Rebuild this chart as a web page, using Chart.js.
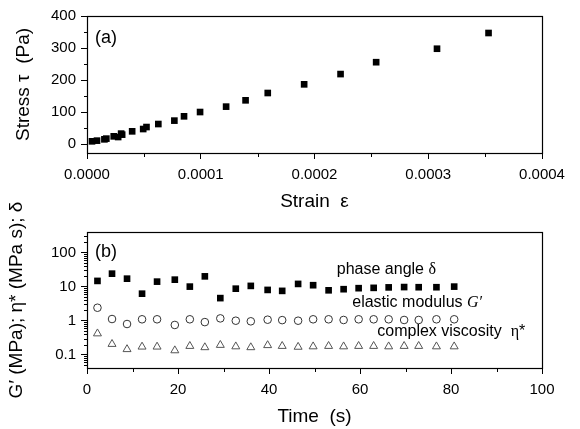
<!DOCTYPE html>
<html>
<head>
<meta charset="utf-8">
<script src="https://cdn.jsdelivr.net/npm/chart.js@4.4.0/dist/chart.umd.min.js"></script>
<style>
  body { margin: 0; background: #fff; }
  #wrap { position: relative; width: 580px; height: 429px; }
  canvas { position: absolute; left: 0; }
  #chartA { top: 0; }
  #chartB { top: 190px; }
</style>
</head>
<body>
<div id="wrap">
  <canvas id="chartA" width="580" height="215"></canvas>
  <canvas id="chartB" width="580" height="239"></canvas>
</div>
<script>
// panel (a) : stress vs strain
let strain = [0.0000044, 0.0000088, 0.0000153, 0.000017, 0.0000235, 0.0000274, 0.00003, 0.0000309, 0.0000397, 0.0000494, 0.0000523, 0.0000627, 0.0000768, 0.0000853, 0.0000994, 0.0001223, 0.0001394, 0.0001589, 0.0001909, 0.0002229, 0.0002542, 0.0003077, 0.000353];
let stress = [9.4, 11.5, 15.6, 17.8, 24.9, 22.8, 33.4, 30.2, 40.5, 47.7, 53.9, 63.3, 73.9, 87.3, 100.7, 117.5, 137.2, 160, 187, 219, 256, 298, 347];
let strainTicks = [0, 0.0001, 0.0002, 0.0003, 0.0004];
let strainMinor = [0.00005, 0.00015, 0.00025, 0.00035];
let stressTicks = [0, 100, 200, 300, 400];
let stressMinor = [50, 150, 250, 350];

// panel (b) : time sweep
let time = [2.3, 5.5, 8.8, 12.1, 15.4, 19.3, 22.6, 25.9, 29.3, 32.7, 36.0, 39.7, 42.9, 46.4, 49.7, 53.1, 56.4, 59.7, 63.0, 66.3, 69.7, 72.9, 76.8, 80.7];
let phaseAngle = [14.7, 24, 17.1, 6.2, 14, 16, 10, 20, 4.6, 8.7, 10.5, 8.0, 7.5, 12, 11, 7.8, 8.4, 9.0, 9.2, 9.5, 9.7, 9.6, 9.6, 10];
let elasticModulus = [2.4, 1.12, 0.8, 1.1, 1.1, 0.75, 1.1, 0.91, 1.17, 1.0, 0.96, 1.07, 1.04, 1.0, 1.1, 1.1, 1.05, 1.1, 1.1, 1.1, 1.05, 1.05, 1.1, 1.1];
let complexViscosity = [0.42, 0.206, 0.145, 0.172, 0.172, 0.134, 0.18, 0.165, 0.193, 0.175, 0.165, 0.19, 0.18, 0.17, 0.175, 0.18, 0.175, 0.18, 0.18, 0.175, 0.18, 0.18, 0.175, 0.175];
let timeTicks = [0, 20, 40, 60, 80, 100];
let timeMinor = [10, 30, 50, 70, 90];
let logTicks = [0.1, 1, 10, 100];

// petites graduations du log : 2..9 x 10^n dans la plage
let logMinor = [];
for (let e = -2; e <= 2; e++) {
    for (let m = 2; m <= 9; m++) {
        let v = m * Math.pow(10, e);
        if (v > 0.041 && v < 400) logMinor.push(v);
    }
}

const sans = '"Liberation Sans", Arial, sans-serif';
const serif = '"Liberation Serif", "Times New Roman", serif';

function toPoints(xs, ys) {
    return xs.map((x, i) => ({x: x, y: ys[i]}));
}

// cadre, petites graduations et textes dans le graphique
const framePlugin = {
    id: 'frame',
    afterDraw(chart, args, opts) {
        const ctx = chart.ctx;
        const a = chart.chartArea;
        ctx.save();
        ctx.strokeStyle = '#000';
        ctx.lineWidth = 1.2;
        ctx.strokeRect(Math.round(a.left) + 0.5, Math.round(a.top) + 0.5,
            Math.round(a.right - a.left), Math.round(a.bottom - a.top));
        ctx.lineWidth = 1;
        (opts.minor || []).forEach(m => {
            const s = chart.scales[m.axis];
            m.values.forEach(v => {
                const p = Math.round(s.getPixelForValue(v)) + 0.5;
                ctx.beginPath();
                if (s.isHorizontal()) {
                    ctx.moveTo(p, Math.round(a.bottom));
                    ctx.lineTo(p, Math.round(a.bottom) + 4);
                } else {
                    ctx.moveTo(Math.round(a.left), p);
                    ctx.lineTo(Math.round(a.left) - 3, p);
                }
                ctx.stroke();
            });
        });
        ctx.fillStyle = '#000';
        ctx.textBaseline = 'middle';
        ctx.textAlign = 'left';
        (opts.labels || []).forEach(l => {
            let x, y;
            if (l.area) {
                x = a.left + l.x;
                y = a.top + l.y;
            } else {
                x = chart.scales.x.getPixelForValue(l.x);
                y = chart.scales.y.getPixelForValue(l.y);
            }
            l.parts.forEach(p => {
                ctx.font = p[1];
                ctx.fillText(p[0], x, y);
                x += ctx.measureText(p[0]).width;
            });
        });
        ctx.restore();
    }
};

const tickGrid = {
    display: true,
    drawOnChartArea: false,
    drawTicks: true,
    tickLength: 6,
    color: '#000',
    lineWidth: 1
};

// graphique (a)
new Chart('chartA', {
    type: 'scatter',
    data: {
        datasets: [{
            data: toPoints(strain, stress),
            pointStyle: 'rect',
            pointRadius: 4.7,
            backgroundColor: '#000',
            borderColor: '#000',
            borderWidth: 0
        }]
    },
    options: {
        responsive: false,
        animation: false,
        layout: {padding: {left: 0, right: 38, top: 16, bottom: 0}},
        plugins: {
            legend: {display: false},
            tooltip: {enabled: false},
            frame: {
                minor: [{axis: 'x', values: strainMinor}, {axis: 'y', values: stressMinor}],
                labels: [{area: true, x: 8, y: 22, parts: [['(a)', '18px ' + sans]]}]
            }
        },
        scales: {
            x: {
                type: 'linear',
                min: 0,
                max: 0.0004,
                afterBuildTicks: s => { s.ticks = strainTicks.map(v => ({value: v})); },
                afterFit: s => { s.height = 62; },
                ticks: {autoSkip: false, maxRotation: 0, padding: 7, color: '#000', font: {family: sans, size: 15},
                    callback: v => Number(v).toFixed(4)},
                grid: tickGrid,
                border: {display: false},
                title: {display: true, text: 'Strain  ε', color: '#000', font: {family: sans, size: 19},
                    padding: {top: 0, bottom: 2}}
            },
            y: {
                type: 'linear',
                min: -27,
                max: 400,
                afterBuildTicks: s => { s.ticks = stressTicks.map(v => ({value: v})); },
                afterFit: s => { s.width = 87; },
                ticks: {autoSkip: false, padding: 5, color: '#000', font: {family: sans, size: 15}},
                grid: tickGrid,
                border: {display: false},
                title: {display: true, text: 'Stress τ  (Pa)', color: '#000', font: {family: sans, size: 19},
                    padding: {top: 12, bottom: 0}}
            }
        }
    },
    plugins: [framePlugin]
});

// graphique (b)
new Chart('chartB', {
    type: 'scatter',
    data: {
        datasets: [{
            label: 'phase angle',
            data: toPoints(time, phaseAngle),
            pointStyle: 'rect',
            pointRadius: 4.7,
            backgroundColor: '#000',
            borderColor: '#000',
            borderWidth: 0
        }, {
            label: 'elastic modulus',
            data: toPoints(time, elasticModulus),
            pointStyle: 'circle',
            pointRadius: 3.8,
            backgroundColor: 'rgba(255,255,255,0)',
            borderColor: '#333',
            borderWidth: 1
        }, {
            label: 'complex viscosity',
            data: toPoints(time, complexViscosity),
            pointStyle: 'triangle',
            pointRadius: 4.6,
            backgroundColor: 'rgba(255,255,255,0)',
            borderColor: '#555',
            borderWidth: 1
        }]
    },
    options: {
        responsive: false,
        animation: false,
        layout: {padding: {left: 0, right: 38, top: 42, bottom: 0}},
        plugins: {
            legend: {display: false},
            tooltip: {enabled: false},
            frame: {
                minor: [{axis: 'x', values: timeMinor}, {axis: 'y', values: logMinor}],
                labels: [
                    {area: true, x: 8, y: 20, parts: [['(b)', '18px ' + sans]]},
                    {x: 54.9, y: 30.8, parts: [['phase angle ', '16px ' + sans], ['δ', '16px ' + serif]]},
                    {x: 58.3, y: 3.3, parts: [['elastic modulus ', '16px ' + sans], ['G′', 'italic 16px ' + serif]]},
                    {x: 63.8, y: 0.48, parts: [['complex viscosity  ', '16px ' + sans], ['η', '16px ' + serif], ['*', '16px ' + sans]]}
                ]
            }
        },
        scales: {
            x: {
                type: 'linear',
                min: 0,
                max: 100,
                afterBuildTicks: s => { s.ticks = timeTicks.map(v => ({value: v})); },
                afterFit: s => { s.height = 61; },
                ticks: {autoSkip: false, maxRotation: 0, padding: 7, color: '#000', font: {family: sans, size: 15}},
                grid: tickGrid,
                border: {display: false},
                title: {display: true, text: 'Time  (s)', color: '#000', font: {family: sans, size: 19},
                    padding: {top: 0, bottom: 1}}
            },
            y: {
                type: 'logarithmic',
                min: 0.041,
                max: 400,
                afterBuildTicks: s => { s.ticks = logTicks.map(v => ({value: v, major: true})); },
                afterFit: s => { s.width = 87; },
                ticks: {autoSkip: false, padding: 5, color: '#000', font: {family: sans, size: 15},
                    callback: v => String(v)},
                grid: tickGrid,
                border: {display: false},
                title: {display: true, text: 'G′ (MPa); η* (MPa s); δ', color: '#000', font: {family: sans, size: 19},
                    padding: {top: 5, bottom: 0}}
            }
        }
    },
    plugins: [framePlugin]
});
</script>
</body>
</html>
